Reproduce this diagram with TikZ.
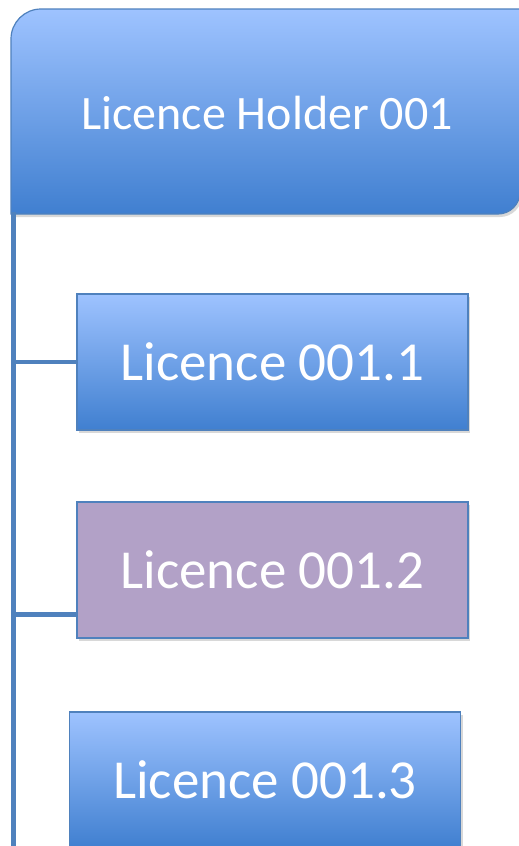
\documentclass[tikz,border=0pt]{standalone}
\usepackage{fontspec}
\setmainfont{Carlito}
\usetikzlibrary{shadows,calc}
\definecolor{gtop}{RGB}{158,195,255}
\definecolor{gbot}{RGB}{64,127,208}
\definecolor{edge}{RGB}{79,129,189}
\definecolor{lilac}{RGB}{178,161,199}
\begin{document}
\begin{tikzpicture}[x=1pt,y=-1pt,
  softshadow/.style={drop shadow={shadow xshift=2pt,shadow yshift=-3pt,opacity=0.25,fill=black!60}},
  childbox/.style={rectangle,draw=edge,line width=1.2pt,minimum width=391pt,minimum height=136pt,
     inner sep=0pt,text=white,font=\fontsize{55}{60}\selectfont,softshadow},
  bluefill/.style={top color=gtop,bottom color=gbot},
  purplefill/.style={fill=lilac},
  link/.style={draw=edge,line width=4.5pt},
  trunk/.style={draw=edge,line width=5pt}]
\clip (0,0) rectangle (519,846);
\fill[white] (0,0) rectangle (519,846);
% header shape
\path[draw=edge,line width=1.2pt,top color=gtop,bottom color=gbot,softshadow]
  (11,214) -- (11,39) arc[start angle=180,end angle=270,radius=30] -- (520,9) -- (520,192)
  arc[start angle=0,end angle=90,radius=22] -- cycle;
\node[text=white,font=\fontsize{48}{52}\selectfont,inner sep=0pt] (hdr) at (267,113) {Licence Holder 001};
% trunk
\coordinate (trunkTop) at (13,212);
\coordinate (trunkEnd) at (13,850);
% children
\node[childbox,bluefill] (c1) at (272.5,362) {Licence 001.1};
\node[childbox,purplefill] (c2) at (272.5,570) {Licence 001.2};
\node[childbox,bluefill] (c3) at (265,780) {Licence 001.3};
\coordinate (j1) at (trunkTop |- c1.west);
\coordinate (p2) at ($(c2.south west)+(0,-24)$);
\coordinate (j2) at (trunkTop |- p2);
\path[link] (j1) -- (c1.west);
\path[link] (j2) -- (p2);
\path[trunk] (trunkTop) -- (trunkEnd);
\end{tikzpicture}
\end{document}
